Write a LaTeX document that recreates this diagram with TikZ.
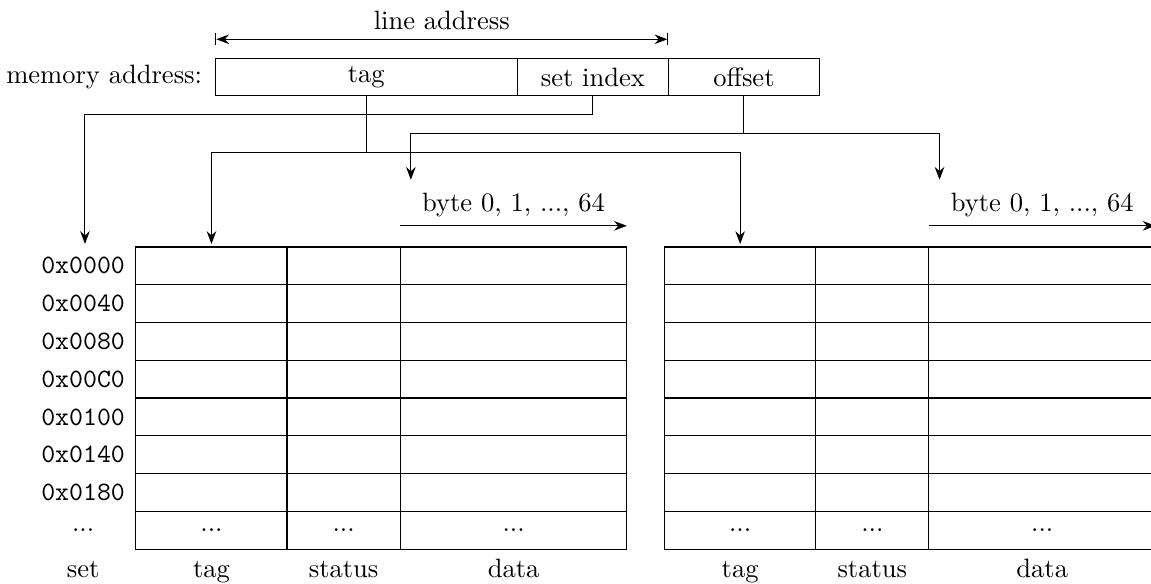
\documentclass[tikz,border=0pt]{standalone}
\usepackage{tikz}
\usetikzlibrary{positioning, arrows.meta}

\begin{document}
\begin{tikzpicture}[>={Stealth},
        field/.style={draw, minimum height=0.5cm, inner sep=0pt, outer sep=0pt},
        rowlabel/.style={font=\ttfamily}]
    \useasboundingbox (-1.8,-4.46) rectangle (13.44,3.27);

    % the address
    \node[field, minimum width=4cm, anchor=south west] (tagfield) at (1.05,2) {tag};
    \node[field, minimum width=2cm, right=0pt of tagfield] (setfield) {set index};
    \node[field, minimum width=2cm, right=0pt of setfield] (offfield) {offset};
    \node[left=0.05cm of tagfield] (memlabel) {memory address:};

    \coordinate (lastart) at (1.05,2.75);
    \coordinate (laend) at (7.05,2.75);
    \draw[|<->|] (lastart) -- node[above] (linelabel) {line address} (laend);

    % the two ways
    \foreach \x in {0,7} {
        \draw (\x,0) rectangle ++(6.5,-4);
        \foreach \y in {1,...,7}
            \draw (\x,-0.5*\y) -- ++(6.5,0);
        \draw (\x+2,0) -- ++(0,-4);
        \draw (\x+3.5,0) -- ++(0,-4);

        \node (dotstag\x) at (\x+1,-3.75) {...};
        \node (dotsstatus\x) at (\x+2.75,-3.75) {...};
        \node (dotsdata\x) at (\x+5,-3.75) {...};

        \node[anchor=base] (coltag\x) at (\x+1,-4.37) {tag};
        \node[anchor=base] (colstatus\x) at (\x+2.75,-4.37) {status};
        \node[anchor=base] (coldata\x) at (\x+5,-4.37) {data};

        \coordinate (tagtop\x) at (\x+1,0.04);
        \coordinate (offtop\x) at (\x+3.64,0.89);
        \coordinate (bytestart\x) at (\x+3.5,0.28);
        \coordinate (byteend\x) at (\x+6.5,0.28);
        \draw[->] (bytestart\x) -- node[above] (bytes\x) {byte 0, 1, ..., 64} (byteend\x);
    }

    % set numbers
    \foreach \lab [count=\i] in {0x0000,0x0040,0x0080,0x00C0,0x0100,0x0140,0x0180}
        \node[rowlabel] (set\i) at (-0.7,0.25-0.5*\i) {\lab};
    \node (set8) at (-0.7,-3.75) {...};
    \node[anchor=base] (colset) at (-0.7,-4.37) {set};

    % connectors
    \coordinate (setbend) at (-0.675,1.75);
    \coordinate (settop) at (-0.675,0.04);
    \draw[->] (setfield.south) |- (setbend) -- (settop);

    \coordinate (tagjoin) at (tagfield.south |- 0,1.25);
    \draw[->] (tagfield.south) -- (tagjoin) -| (tagtop0);
    \draw[->] (tagjoin) -| (tagtop7);

    \coordinate (offjoin) at (offfield.south |- 0,1.5);
    \draw[->] (offfield.south) -- (offjoin) -| (offtop0);
    \draw[->] (offjoin) -| (offtop7);
\end{tikzpicture}
\end{document}
